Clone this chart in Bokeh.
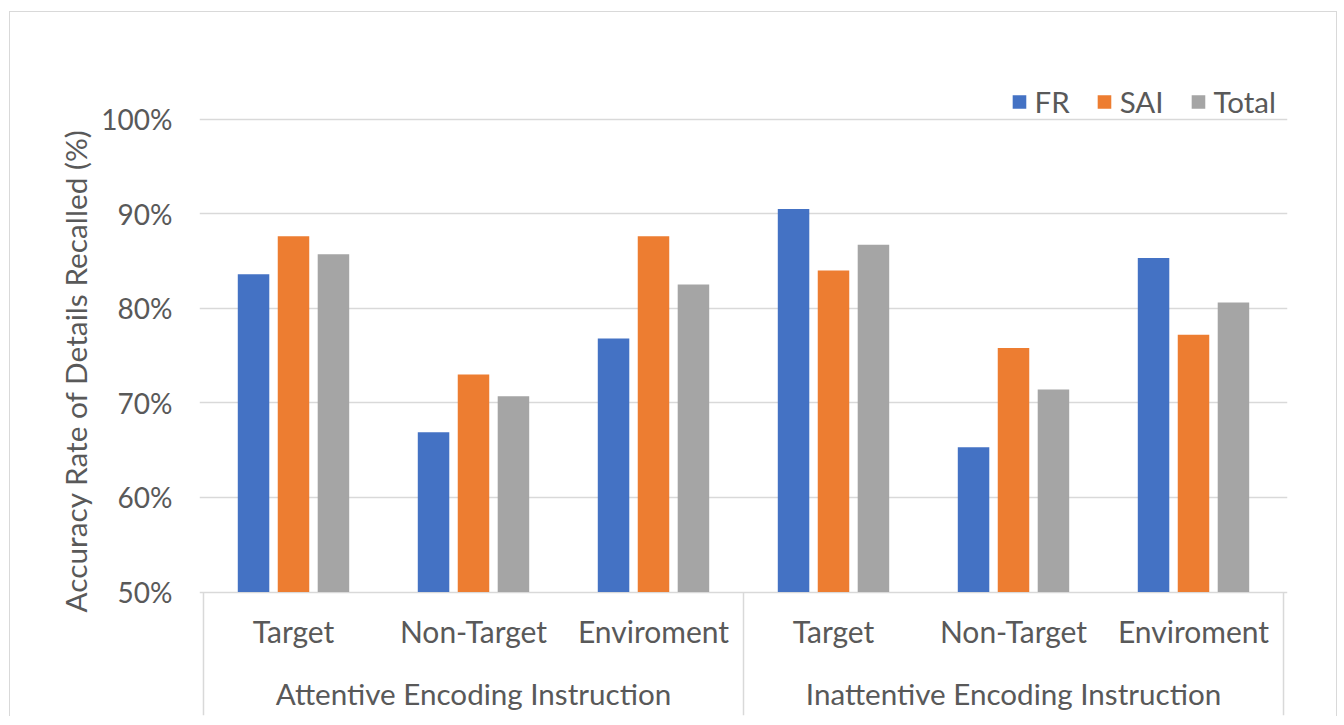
from bokeh.plotting import figure
from bokeh.models import (ColumnDataSource, FactorRange, Range1d, FixedTicker,
                          Legend, LegendItem, Title, PrintfTickFormatter)
from bokeh.transform import dodge
from bokeh.core.properties import value
from bokeh.embed import file_html
from bokeh.resources import INLINE

# ---------------- data ----------------
groups = ["Attentive Encoding Instruction", "Inattentive Encoding Instruction"]
conditions = ["Target", "Non-Target", "Enviroment"]
series = ["FR", "SAI", "Total"]
fr = [83.6, 66.9, 76.8, 90.5, 65.3, 85.3]
sai = [87.6, 73.0, 87.6, 84.0, 75.8, 77.2]
total = [85.7, 70.7, 82.5, 86.7, 71.4, 80.6]
y_ticks = [50, 60, 70, 80, 90, 100]
y_label = "Accuracy Rate  of Details Recalled (%)"

# ---------------- style ----------------
colors = ["#4472C4", "#ED7D31", "#A5A5A5"]
text_color = "#595959"
grid_color = "#D9D9D9"
FONT = "Lato"
y_min = 50
y_lo, y_hi = 36.95, 104.81
sub_y, grp_y = 45.9, 39.3

factors = [(g, c) for g in groups for c in conditions]
source = ColumnDataSource(dict(x=factors, FR=fr, SAI=sai, Total=total))

x_range = FactorRange(factors=factors, factor_padding=0, subgroup_padding=0,
                      group_padding=0, range_padding=0.0074,
                      range_padding_units="percent")

p = figure(x_range=x_range, y_range=Range1d(y_lo, y_hi),
           width=1326, height=704, frame_width=1088, frame_height=642,
           min_border_left=189, min_border_right=49, min_border_top=61,
           min_border_bottom=1, output_backend="svg", toolbar_location=None,
           background_fill_color="white", border_fill_color="white")
p.margin = (11, 0, 0, 9)
p.styles = {"border-top": "1px solid #D9D9D9", "border-left": "1px solid #D9D9D9",
            "border-right": "1px solid #D9D9D9"}
p.outline_line_color = None

# bars
offsets = [-0.222, 0.0, 0.222]
renderers = []
for s, off, col in zip(series, offsets, colors):
    r = p.vbar(x=dodge("x", off, range=p.x_range), top=s, bottom=y_min,
               width=0.175, source=source, fill_color=col, line_color=None)
    renderers.append(r)

# axes / grid
p.xaxis.visible = False
p.xgrid.visible = False
p.yaxis.ticker = FixedTicker(ticks=y_ticks)
p.yaxis.formatter = PrintfTickFormatter(format="%d%%")
p.yaxis.axis_line_color = None
p.yaxis.major_tick_line_color = None
p.yaxis.minor_tick_line_color = None
p.yaxis.major_tick_out = 0
p.yaxis.major_tick_in = 0
p.yaxis.major_label_standoff = 27
p.yaxis.major_label_text_font = FONT
p.yaxis.major_label_text_font_size = "28px"
p.yaxis.major_label_text_color = text_color
p.ygrid.grid_line_color = grid_color
p.ygrid.grid_line_width = 1.5

# y-axis title
p.add_layout(Title(text=y_label, align="left", offset=103, text_font=FONT,
                   text_font_size="29.8px", text_font_style="normal",
                   text_color=text_color, standoff=11), "left")

# category labels below the axis
p.text(x=factors, y=[sub_y] * len(factors),
       text=[c for g in groups for c in conditions],
       text_align="center", text_baseline="middle", text_font=value(FONT),
       text_font_size="30px", text_color=text_color)
p.text(x=groups, y=[grp_y] * len(groups), text=groups,
       text_align="center", text_baseline="middle", text_font=value(FONT),
       text_font_size="29.6px", text_color=text_color)

# separators
sep_x = [(groups[0], conditions[0], -0.5), (groups[0], conditions[-1], 0.5),
         (groups[1], conditions[-1], 0.5)]
p.segment(x0=sep_x, x1=sep_x, y0=[y_min] * 3, y1=[y_lo] * 3,
          line_color=grid_color, line_width=1.5)

# legend
legend = Legend(items=[LegendItem(label=s, renderers=[r]) for s, r in zip(series, renderers)],
                orientation="horizontal", location="top_right",
                border_line_color=None, background_fill_alpha=0,
                label_text_font=FONT, label_text_font_size="29.5px",
                label_text_color=text_color, glyph_width=17, glyph_height=17,
                label_standoff=7, spacing=26, padding=11, margin=11)
p.add_layout(legend)

open("out.html", "w").write(file_html(p, INLINE))
